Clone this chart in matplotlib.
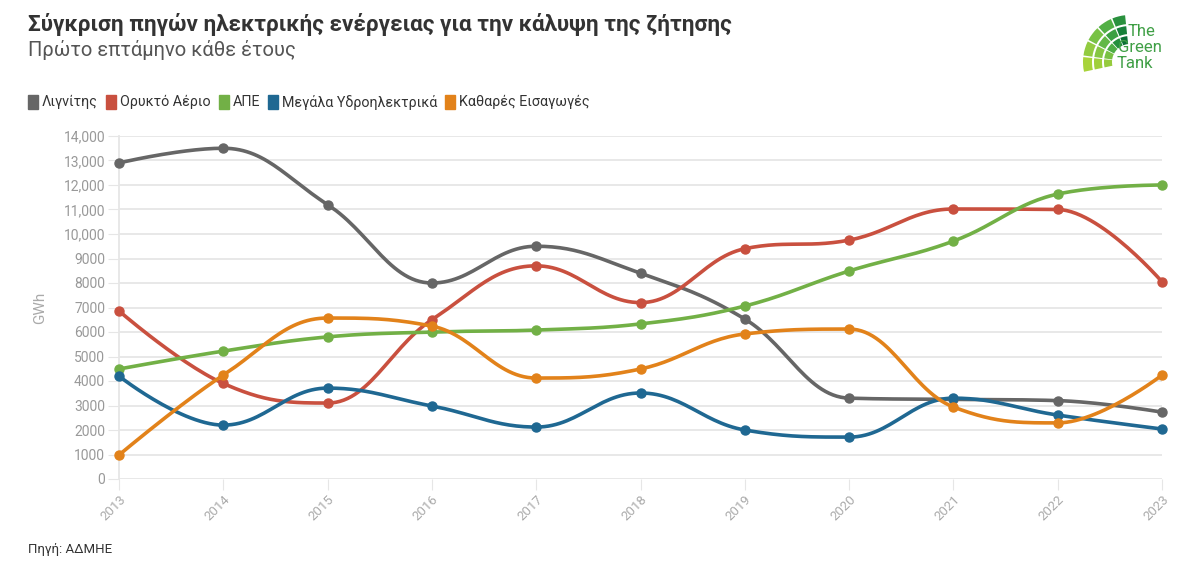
import numpy as np
import matplotlib
matplotlib.use("Agg")
import matplotlib.pyplot as plt
from matplotlib.patches import Wedge

plt.rcParams['font.family'] = ['Roboto', 'DejaVu Sans']

years = [2013, 2014, 2015, 2016, 2017, 2018, 2019, 2020, 2021, 2022, 2023]
lignite = [12900, 13500, 11200, 8000, 9500, 8400, 6530, 3300, 3250, 3200, 2730]
gas = [6860, 3900, 3100, 6500, 8700, 7200, 9400, 9750, 11020, 11000, 8050]
res = [4490, 5220, 5800, 6000, 6080, 6330, 7060, 8490, 9710, 11630, 12000]
hydro = [4200, 2200, 3710, 2980, 2120, 3510, 2000, 1710, 3300, 2610, 2040]
imports = [980, 4240, 6570, 6240, 4120, 4490, 5920, 6120, 2940, 2290, 4240]

series_names = ['Λιγνίτης', 'Ορυκτό Αέριο', 'ΑΠΕ', 'Μεγάλα Υδροηλεκτρικά', 'Καθαρές Εισαγωγές']
series_values = [lignite, gas, res, hydro, imports]
colors = ['#666666', '#c9503f', '#72b046', '#1f6892', '#e2821a']


def spline_path(xs, ys, smoothing=1.5, steps=30):
    # highcharts-style spline control points
    n = len(xs)
    rc = [(xs[i], ys[i]) for i in range(n)]
    lc = [(xs[i], ys[i]) for i in range(n)]
    for i in range(1, n - 1):
        px, py = xs[i], ys[i]
        lx, ly = xs[i - 1], ys[i - 1]
        nx, ny = xs[i + 1], ys[i + 1]
        d = smoothing + 1
        lcx = (smoothing * px + lx) / d
        lcy = (smoothing * py + ly) / d
        rcx = (smoothing * px + nx) / d
        rcy = (smoothing * py + ny) / d
        if rcx != lcx:
            corr = ((rcy - lcy) * (rcx - px)) / (rcx - lcx) + py - rcy
            lcy += corr
            rcy += corr
        if lcy > ly and lcy > py:
            lcy = max(ly, py)
            rcy = 2 * py - lcy
        elif lcy < ly and lcy < py:
            lcy = min(ly, py)
            rcy = 2 * py - lcy
        if rcy > ny and rcy > py:
            rcy = max(ny, py)
            lcy = 2 * py - rcy
        elif rcy < ny and rcy < py:
            rcy = min(ny, py)
            lcy = 2 * py - rcy
        lc[i] = (lcx, lcy)
        rc[i] = (rcx, rcy)
    out_x, out_y = [xs[0]], [ys[0]]
    t = np.linspace(0, 1, steps)[1:]
    for i in range(1, n):
        p0 = np.array([xs[i - 1], ys[i - 1]])
        p1 = np.array(rc[i - 1])
        p2 = np.array(lc[i])
        p3 = np.array([xs[i], ys[i]])
        pts = ((1 - t) ** 3)[:, None] * p0 + (3 * (1 - t) ** 2 * t)[:, None] * p1 \
            + (3 * (1 - t) * t ** 2)[:, None] * p2 + (t ** 3)[:, None] * p3
        out_x.extend(pts[:, 0])
        out_y.extend(pts[:, 1])
    return out_x, out_y


W, H = 1198, 575
fig = plt.figure(figsize=(W / 100, H / 100), dpi=100)
ax = fig.add_axes([119 / W, 1 - 479 / H, (1162 - 119) / W, (479 - 136) / H])

for name, vals, c in zip(series_names, series_values, colors):
    sx, sy = spline_path(years, vals)
    ax.plot(sx, sy, color=c, lw=2.6, solid_capstyle='round', zorder=3, clip_on=False)
    ax.plot(years, vals, 'o', color=c, ms=6.5, zorder=4, clip_on=False)

ax.set_xlim(2013, 2023)
ax.set_ylim(0, 14000)
yt = np.arange(0, 14001, 1000)
ax.set_yticks(yt)
ax.set_yticklabels([f'{v:,}' if v >= 10000 else str(v) for v in yt])
ax.set_xticks(years)
ax.set_xticklabels([str(y) for y in years], rotation=45, ha='right', rotation_mode='anchor')
ax.grid(axis='y', color='#e6e6e6', lw=1.3, zorder=0)
for s in ['top', 'right', 'bottom']:
    ax.spines[s].set_visible(False)
ax.spines['left'].set_color('#e6e6e6')
ax.spines['left'].set_linewidth(1.3)
ax.tick_params(axis='y', length=8, color='#e6e6e6', labelcolor='#999999', labelsize=10, pad=2)
ax.tick_params(axis='x', length=8, color='#e6e6e6', labelcolor='#aaaaaa', labelsize=9.5, pad=2)
ax.set_ylabel('GWh', color='#aaaaaa', fontsize=11, labelpad=12)

fig.text(28 / W, 1 - 24 / H, 'Σύγκριση πηγών ηλεκτρικής ενέργειας για την κάλυψη της ζήτησης',
         fontsize=16.2, fontweight='bold', color='#333333', va='center')
fig.text(28 / W, 1 - 50 / H, 'Πρώτο επτάμηνο κάθε έτους', fontsize=14.5, color='#555555', va='center')

# legend
lx = 28
for name, c in zip(series_names, colors):
    fig.patches.append(plt.Rectangle((lx / W, 1 - 109 / H), 10 / W, 14 / H, transform=fig.transFigure,
                                     color=c, figure=fig))
    t = fig.text((lx + 14) / W, 1 - 102 / H, name, fontsize=10.3, color='#333333', va='center')
    fig.canvas.draw()
    bb = t.get_window_extent()
    lx = bb.x1 + 8

fig.text(28 / W, 1 - 550 / H, 'Πηγή: ΑΔΜΗΕ', fontsize=9.5, color='#333333', va='center')

# logo (pixel coordinates, y measured upward)
lax = fig.add_axes([1078 / W, 1 - 80 / H, 50 / W, 70 / H])
lax.set_xlim(1078, 1128)
lax.set_ylim(H - 80, H - 10)
lax.axis('off')
cx, cy = 1130, H - 62
rings = [(18, 26), (28, 36), (38, 47)]
angles = [(96, 112), (114, 132), (134, 152), (154, 172), (174, 192)]
shades = [['#0b6e35', '#238f3c', '#4fae45', '#79c143', '#96cb3d'],
          ['#17803a', '#3ba042', '#63b846', '#86c642', '#a0cf3b'],
          ['#2a913e', '#52b045', '#78c245', '#92cb40', '#a8d33a']]
for r_i, (r0, r1) in enumerate(rings):
    for a_i, (a0, a1) in enumerate(angles):
        lax.add_patch(Wedge((cx, cy), r1, a0, a1, width=r1 - r0,
                            color=shades[r_i][a_i], lw=0, clip_on=False))
logo_green = '#3f9f45'
fig.text(1128 / W, 1 - 32 / H, 'The', fontsize=12, color=logo_green, va='center')
fig.text(1118 / W, 1 - 48 / H, 'Green', fontsize=12, color=logo_green, va='center')
fig.text(1117 / W, 1 - 63 / H, 'Tank', fontsize=12, color=logo_green, va='center')

fig.savefig('out.png', dpi=100)
